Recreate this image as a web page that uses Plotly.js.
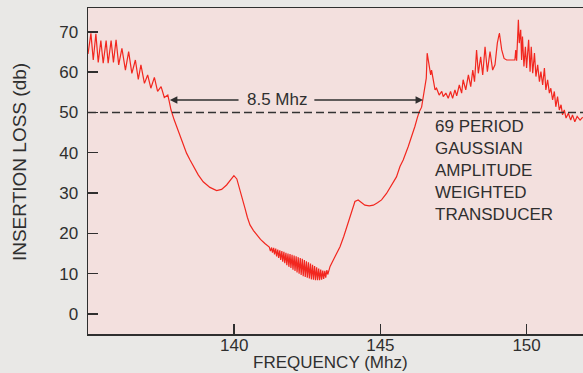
<!DOCTYPE html>
<html>
<head>
<meta charset="utf-8">
<script src="https://cdn.plot.ly/plotly-3.0.1.min.js"></script>
<style>html,body{margin:0;padding:0;background:#e9e8e6;}#chart{width:583px;height:373px;}</style>
</head>
<body>
<div id="chart"></div>
<script>
// Frequency (MHz) and insertion loss (dB)
const freqMHz = [
 135.00,135.10,135.18,135.27,135.35,135.44,135.52,135.62,135.69,135.79,135.87,135.96,
 136.05,136.16,136.28,136.39,136.50,136.62,136.72,136.81,136.93,137.04,137.15,137.27,
 137.38,137.50,137.61,137.73,137.78,137.84,137.95,138.07,138.15,138.26,138.37,138.49,
 138.60,138.77,138.94,139.17,139.40,139.57,139.74,139.91,139.99,140.09,140.17,140.26,
 140.37,140.45,140.54,140.66,140.77,140.90,141.05,141.15,
 141.20,141.24,141.28,141.31,141.35,141.38,141.42,141.45,141.49,141.52,141.56,141.59,
 141.63,141.66,141.70,141.73,141.77,141.80,141.84,141.87,141.91,141.94,141.98,142.01,
 142.05,142.08,142.12,142.15,142.19,142.22,142.26,142.29,142.33,142.36,142.40,142.43,
 142.47,142.50,142.54,142.57,142.61,142.64,142.68,142.71,142.75,142.78,142.82,142.85,
 142.89,142.92,142.96,142.99,143.03,143.06,143.10,143.13,143.17,143.20,
 143.28,143.39,143.50,143.62,143.75,143.85,143.95,144.02,144.13,144.24,144.35,144.47,
 144.62,144.76,144.90,145.04,145.21,145.39,145.55,145.67,145.78,145.95,146.07,146.18,
 146.26,146.33,146.41,146.47,146.53,146.57,
 146.60,146.66,146.72,146.75,146.81,146.87,146.92,147.01,147.10,147.15,147.24,147.32,
 147.40,147.47,147.55,147.61,147.70,147.78,147.83,147.92,148.01,148.09,148.16,148.22,
 148.29,148.35,148.43,148.50,148.58,148.66,148.75,148.84,148.92,149.00,149.07,149.15,
 149.23,149.32,149.60,149.63,149.66,149.72,149.75,149.80,149.83,149.86,149.91,149.96,
 150.00,150.07,150.12,150.16,150.21,150.27,150.32,150.38,150.44,150.49,150.55,150.61,
 150.66,150.72,150.78,150.83,150.89,150.95,151.00,151.06,151.12,151.18,151.23,151.29,
 151.35,151.43,151.51,151.57,151.65,151.73,151.83,151.92
];
const lossDb = [
 64.5,69.6,63.0,69.5,62.4,67.8,62.2,67.8,62.2,67.8,62.4,68.0,
 61.8,65.9,60.5,65.1,59.7,63.0,58.2,61.8,57.2,59.3,56.0,58.7,
 55.2,56.4,53.7,54.3,52.7,50.6,48.1,45.7,44.6,42.4,39.9,38.2,
 36.6,34.5,32.8,31.4,30.6,30.9,32.0,33.7,34.3,33.5,31.2,28.8,
 26.2,24.0,22.1,20.7,19.6,18.5,17.5,16.9,
 16.6,15.6,16.5,15.2,16.4,14.8,16.2,14.3,16.0,13.9,15.8,13.4,
 15.6,13.0,15.4,12.6,15.2,12.1,15.0,11.7,14.9,11.4,14.7,11.0,
 14.5,10.7,14.3,10.3,14.1,10.0,13.9,9.7,13.7,9.4,13.4,9.2,
 13.1,9.0,12.8,8.8,12.5,8.6,12.2,8.5,11.9,8.4,11.6,8.4,
 11.3,8.4,11.0,8.5,10.8,8.7,10.7,9.0,10.9,9.8,
 11.8,13.4,15.0,16.7,19.3,21.7,24.2,25.8,27.9,28.3,27.6,27.0,
 26.8,27.0,27.6,28.3,29.9,32.0,34.0,36.6,38.2,41.5,44.0,46.5,
 48.6,50.2,51.3,53.9,57.6,58.5,
 64.7,61.8,59.3,60.5,58.1,55.6,56.0,54.3,55.2,53.9,54.8,53.5,
 55.2,53.5,55.6,54.1,56.8,54.8,58.1,55.6,59.3,56.4,60.5,57.6,
 65.5,59.7,63.8,59.3,66.3,60.1,65.1,60.5,61.8,67.2,69.7,65.5,
 63.4,63.0,63.0,65.5,62.8,73.0,67.2,70.5,63.0,68.8,61.4,66.3,
 61.0,68.0,60.1,66.3,59.7,64.7,58.9,61.8,57.6,60.1,56.8,61.0,
 55.6,58.1,54.8,56.0,53.1,55.2,51.4,53.9,50.6,51.9,49.4,50.6,
 48.6,49.8,48.1,49.4,47.7,49.0,48.1,48.8
];
const xTicks = [140, 145, 150];
const yTicks = [0, 10, 20, 30, 40, 50, 60, 70];
const refLevel = 50;            // dashed reference level (dB)
const bandEdges = [137.80, 146.46]; // 8.5 MHz bandwidth markers
const bandLabel = "8.5 Mhz";
const bandLevel = 53.1;
const noteLines = ["69 PERIOD", "GAUSSIAN", "AMPLITUDE", "WEIGHTED", "TRANSDUCER"];

const ink = '#2f2f2f';
const font = 'Liberation Sans, Arial, sans-serif';
const xRange = [135, 151.93];

const traces = [
  {x: freqMHz, y: lossDb, type: 'scatter', mode: 'lines',
   line: {color: '#f2271f', width: 1.2}, hoverinfo: 'skip'},
  {x: xRange, y: [refLevel, refLevel], type: 'scatter', mode: 'lines',
   line: {color: '#333', width: 1.5, dash: '8px,4px'}, hoverinfo: 'skip'}
];

const layout = {
  width: 583, height: 373,
  margin: {l: 88, r: 0, t: 8, b: 39},
  paper_bgcolor: '#e9e8e6',
  plot_bgcolor: '#f3e0de',
  showlegend: false,
  font: {family: font, color: ink, size: 17},
  xaxis: {
    range: xRange, tickvals: xTicks, ticktext: xTicks.map(String),
    ticks: 'inside', ticklen: 10, tickwidth: 1.5, tickcolor: ink,
    showline: true, linecolor: ink, linewidth: 1.5, mirror: true,
    showgrid: false, zeroline: false, ticklabelstandoff: -5,
    tickfont: {size: 17, color: ink, family: font}
  },
  yaxis: {
    range: [-4.96, 75.9], tickvals: yTicks, ticktext: yTicks.map(String),
    ticks: 'inside', ticklen: 10, tickwidth: 1.5, tickcolor: ink,
    showline: true, linecolor: ink, linewidth: 1.5,
    showgrid: false, zeroline: false, ticklabelstandoff: 5,
    tickfont: {size: 17, color: ink, family: font}
  },
  annotations: [
    {xref: 'paper', yref: 'paper', x: 0.489, y: -0.1196, xanchor: 'center', yanchor: 'bottom',
     borderpad: 0, text: 'FREQUENCY (Mhz)', showarrow: false,
     font: {size: 17, color: ink, family: font}},
    {xref: 'paper', yref: 'paper', x: -0.137, y: 0.528, xanchor: 'center', yanchor: 'middle',
     text: 'INSERTION LOSS (db)', textangle: -90, showarrow: false,
     font: {size: 19, color: ink, family: font}},
    {xref: 'x', yref: 'y', x: 141.45, y: bandLevel, text: bandLabel, showarrow: false,
     font: {size: 17, color: ink, family: font}},
    {xref: 'x', yref: 'y', axref: 'x', ayref: 'y', x: bandEdges[0], y: bandLevel,
     ax: 140.2, ay: bandLevel, text: '', showarrow: true, arrowhead: 2, arrowsize: 1,
     arrowwidth: 1.5, arrowcolor: ink},
    {xref: 'x', yref: 'y', axref: 'x', ayref: 'y', x: bandEdges[1], y: bandLevel,
     ax: 142.69, ay: bandLevel, text: '', showarrow: true, arrowhead: 2, arrowsize: 1,
     arrowwidth: 1.5, arrowcolor: ink},
    {xref: 'x', yref: 'y', x: 146.80, y: 49.4, xanchor: 'left', yanchor: 'top', align: 'left',
     text: noteLines.join('<br>'), showarrow: false,
     font: {size: 17, color: ink, family: font}}
  ]
};

Plotly.newPlot('chart', traces, layout, {staticPlot: true, displayModeBar: false});
</script>
</body>
</html>
